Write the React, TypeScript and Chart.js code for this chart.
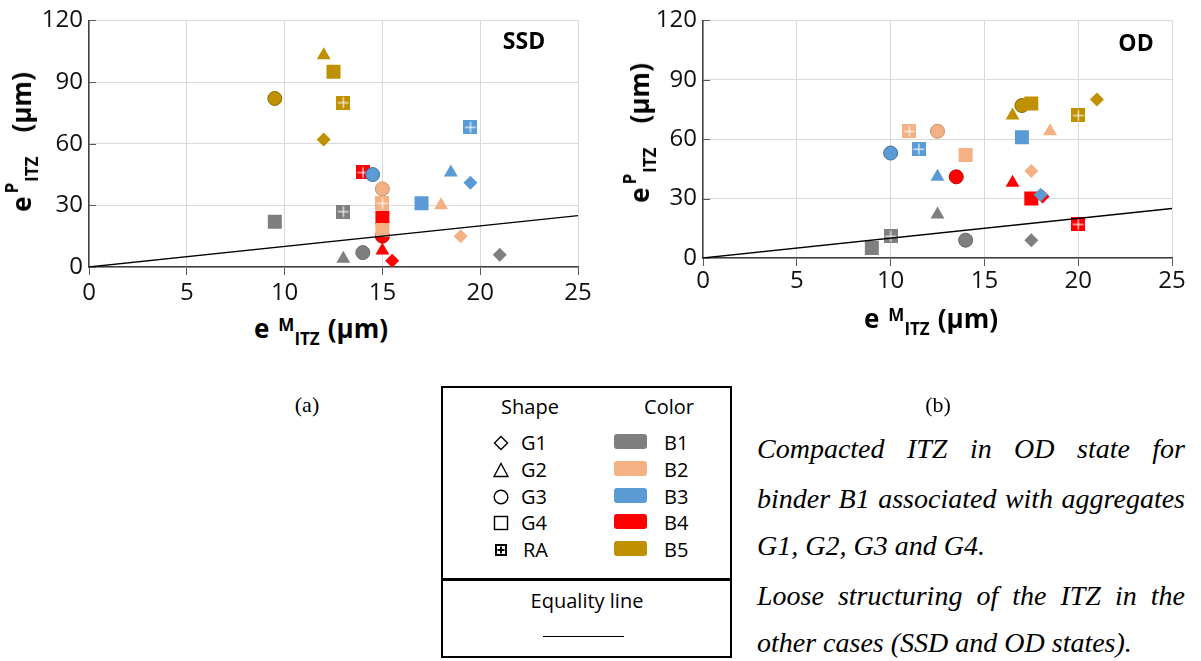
import React, { useEffect, useRef } from 'react';
import { Chart, registerables } from 'chart.js';

Chart.register(...registerables);

// ---------- data ----------
const SHAPES = ['G1', 'G2', 'G3', 'G4', 'RA'];
const BINDERS = ['B1', 'B2', 'B3', 'B4', 'B5'];
const X_TICKS = [0, 5, 10, 15, 20, 25];
const Y_TICKS = [0, 30, 60, 90, 120];
const EQUALITY_X = [0, 25];

// (a) SSD state — values in shape order G1, G2, G3, G4, RA
const SSD_B1_X = [21, 13, 14, 9.5, 13];
const SSD_B1_Y = [6, 4, 7, 22, 27];
const SSD_B2_X = [19, 18, 15, 15, 15];
const SSD_B2_Y = [15, 30, 38, 18, 31];
const SSD_B3_X = [19.5, 18.5, 14.5, 17, 19.5];
const SSD_B3_Y = [41, 46, 45, 31, 68];
const SSD_B4_X = [15.5, 15, 15, 15, 14];
const SSD_B4_Y = [3, 8, 15, 24, 46];
const SSD_B5_X = [12, 12, 9.5, 12.5, 13];
const SSD_B5_Y = [62, 103, 82, 95, 80];

// (b) OD state
const OD_B1_X = [17.5, 12.5, 14, 9, 10];
const OD_B1_Y = [9, 22, 9, 5, 11];
const OD_B2_X = [17.5, 18.5, 12.5, 14, 11];
const OD_B2_Y = [44, 64, 64, 52, 64];
const OD_B3_X = [18, 12.5, 10, 17, 11.5];
const OD_B3_Y = [32, 41, 53, 61, 55];
const OD_B4_X = [18.1, 16.5, 13.5, 17.5, 20];
const OD_B4_Y = [31, 38, 41, 30, 17];
const OD_B5_X = [21, 16.5, 17, 17.5, 20];
const OD_B5_Y = [80, 72, 77, 78, 72];

const TEXT_LINES = [
  'Compacted ITZ in OD state for',
  'binder B1 associated with aggregates',
  'G1, G2, G3 and G4.',
  'Loose structuring of the ITZ in the',
  'other cases (SSD and OD states).',
];

// ---------- styles ----------
const BINDER_COLORS = ['#7F7F7F', '#F4B183', '#5B9BD5', '#FF0000', '#BF9000'];
const BINDER_EDGE = ['#666666', '#C8906A', '#41719C', '#C00000', '#8C6A00'];
const BINDER_ORDER = [5, 4, 3, 6, 2];
const SHAPE_STYLE: Record<string, string> = { G1: 'rectRot', G2: 'triangle', G3: 'circle', G4: 'rect' };
const SHAPE_RADIUS: Record<string, number> = { G1: 7, G2: 8, G3: 7, G4: 9.9, RA: 7 };
const FONT = "'Open Sans', 'DejaVu Sans', sans-serif";

function makeRA(color: string) {
  const c = document.createElement('canvas');
  c.width = 14;
  c.height = 14;
  const g = c.getContext('2d')!;
  g.fillStyle = color;
  g.fillRect(0, 0, 14, 14);
  g.fillStyle = 'rgba(255,255,255,0.9)';
  g.fillRect(6.5, 1.5, 1.2, 11);
  g.fillRect(1.5, 6.5, 11, 1.2);
  return c;
}

const inwardTicks = {
  id: 'inwardTicks',
  afterDatasetsDraw(chart: any) {
    const y = chart.scales.y;
    const ctx = chart.ctx;
    ctx.save();
    ctx.strokeStyle = '#595959';
    ctx.lineWidth = 1;
    Y_TICKS.forEach((v) => {
      const py = Math.round(y.getPixelForValue(v)) + 0.5;
      ctx.beginPath();
      ctx.moveTo(y.right, py);
      ctx.lineTo(y.right + 7, py);
      ctx.stroke();
    });
    ctx.restore();
  },
};

type PanelProps = {
  xs: number[][];
  ys: number[][];
  left: number;
  width: number;
  height: number;
  yAxisWidth: number;
  xAxisHeight: number;
  padTop: number;
  padRight: number;
  xTickPad: number;
};

function ScatterPanel(p: PanelProps) {
  const ref = useRef<HTMLCanvasElement>(null);
  useEffect(() => {
    const raImgs = BINDER_COLORS.map(makeRA);
    const datasets: any[] = [
      {
        type: 'scatter',
        label: 'Equality line',
        data: EQUALITY_X.map((v) => ({ x: v, y: v })),
        showLine: true,
        borderColor: '#000000',
        borderWidth: 1.3,
        pointRadius: 0,
        order: 0,
      },
    ];
    BINDERS.forEach((b, bi) => {
      datasets.push({
        type: 'scatter',
        label: b,
        data: p.xs[bi].map((x, i) => ({ x, y: p.ys[bi][i] })),
        pointStyle: SHAPES.map((s) => (s === 'RA' ? raImgs[bi] : SHAPE_STYLE[s])),
        pointRadius: SHAPES.map((s) => SHAPE_RADIUS[s]),
        pointBackgroundColor: BINDER_COLORS[bi],
        pointBorderColor: BINDER_EDGE[bi],
        pointBorderWidth: SHAPES.map((s) => (s === 'G3' ? 1 : 0)),
        showLine: false,
        order: BINDER_ORDER[bi],
      });
    });
    const tickFont = { family: FONT, size: 24 };
    const chart = new Chart(ref.current!, {
      type: 'scatter',
      data: { datasets },
      options: {
        animation: false,
        responsive: false,
        maintainAspectRatio: false,
        devicePixelRatio: 1,
        layout: { padding: { left: 0, right: p.padRight, top: p.padTop, bottom: 0 } },
        plugins: { legend: { display: false }, tooltip: { enabled: false } },
        scales: {
          x: {
            type: 'linear',
            min: 0,
            max: 25,
            afterBuildTicks: (s: any) => {
              s.ticks = X_TICKS.map((v) => ({ value: v }));
            },
            afterFit: (s: any) => {
              s.height = p.xAxisHeight;
            },
            grid: { color: '#D9D9D9', lineWidth: 1, drawTicks: true, tickLength: 8, tickColor: '#595959' },
            border: { color: '#404040', width: 1.5 },
            ticks: { font: tickFont, color: '#111111', padding: p.xTickPad, maxRotation: 0 },
          },
          y: {
            type: 'linear',
            min: 0,
            max: 120,
            afterBuildTicks: (s: any) => {
              s.ticks = Y_TICKS.map((v) => ({ value: v }));
            },
            afterFit: (s: any) => {
              s.width = p.yAxisWidth;
            },
            grid: { color: '#D9D9D9', lineWidth: 1, drawTicks: false },
            border: { color: '#404040', width: 1.5 },
            ticks: { font: tickFont, color: '#111111', padding: 6 },
          },
        },
      } as any,
      plugins: [inwardTicks],
    });
    return () => chart.destroy();
  }, []);
  return (
    <canvas
      ref={ref}
      width={p.width}
      height={p.height}
      style={{ position: 'absolute', left: p.left, top: 0, width: p.width, height: p.height }}
    />
  );
}

// ---------- HTML text pieces ----------
function YTitle({ cx, cy }: { cx: number; cy: number }) {
  return (
    <div
      style={{
        position: 'absolute',
        left: cx,
        top: cy,
        transform: 'translate(-50%, -50%) rotate(-90deg)',
        whiteSpace: 'nowrap',
        fontFamily: FONT,
        fontWeight: 700,
        fontSize: 26,
        lineHeight: '30px',
        color: '#000',
      }}
    >
      <span>e</span>
      <span style={{ fontSize: 17, position: 'relative', top: -13, marginLeft: 3 }}>P</span>
      <span style={{ fontSize: 17, position: 'relative', top: 7, marginLeft: 1 }}>ITZ</span>
      <span style={{ marginLeft: 24 }}>(µm)</span>
    </div>
  );
}

function XTitle({ cx, baseline }: { cx: number; baseline: number }) {
  return (
    <div
      style={{
        position: 'absolute',
        left: cx,
        top: baseline - 25,
        transform: 'translateX(-50%)',
        whiteSpace: 'nowrap',
        fontFamily: FONT,
        fontWeight: 700,
        fontSize: 26,
        lineHeight: '30px',
        color: '#000',
      }}
    >
      <span>e</span>
      <span style={{ fontSize: 17, position: 'relative', top: -7, marginLeft: 9 }}>M</span>
      <span style={{ fontSize: 17, position: 'relative', top: 7 }}>ITZ</span>
      <span style={{ marginLeft: 8 }}>(µm)</span>
    </div>
  );
}

function Label({ text, cx, baseline, size, weight, family, italic }: any) {
  return (
    <div
      style={{
        position: 'absolute',
        left: cx,
        top: baseline - size * 0.95,
        transform: 'translateX(-50%)',
        whiteSpace: 'nowrap',
        fontFamily: family || FONT,
        fontWeight: weight || 400,
        fontStyle: italic ? 'italic' : 'normal',
        fontSize: size,
        lineHeight: `${size * 1.2}px`,
        color: '#000',
      }}
    >
      {text}
    </div>
  );
}

function ShapeIcon({ shape }: { shape: string }) {
  const st = { fill: 'none', stroke: '#000', strokeWidth: 1.4 };
  let el: any = null;
  if (shape === 'G1') el = <polygon points="8,1.5 14.5,8 8,14.5 1.5,8" {...st} />;
  else if (shape === 'G2') el = <polygon points="8,1.5 15,14.5 1,14.5" {...st} />;
  else if (shape === 'G3') el = <circle cx="8" cy="8" r="6.8" {...st} />;
  else if (shape === 'G4') el = <rect x="1.5" y="1.5" width="13" height="13" {...st} />;
  else
    el = (
      <g>
        <rect x="2" y="2" width="12" height="12" fill="#000" />
        <rect x="4" y="4" width="8" height="8" fill="#fff" />
        <path d="M8 4.5 V11.5 M4.5 8 H11.5" stroke="#000" strokeWidth="2" />
      </g>
    );
  return (
    <svg width="16" height="16" viewBox="0 0 16 16" style={{ display: 'block' }}>
      {el}
    </svg>
  );
}

const ROW_Y = [443, 470, 497, 523, 550];

function LegendBox() {
  return (
    <>
      <div
        style={{
          position: 'absolute',
          left: 441,
          top: 386,
          width: 291,
          height: 272,
          border: '2px solid #000',
          boxSizing: 'border-box',
        }}
      />
      <div style={{ position: 'absolute', left: 441, top: 578, width: 291, height: 3, background: '#000' }} />
      <Label text="Shape" cx={530} baseline={414} size={20} />
      <Label text="Color" cx={669} baseline={414} size={20} />
      {SHAPES.map((s, i) => (
        <React.Fragment key={s}>
          <div style={{ position: 'absolute', left: 493, top: ROW_Y[i] - 8 }}>
            <ShapeIcon shape={s} />
          </div>
          <div
            style={{
              position: 'absolute',
              left: s === 'RA' ? 523 : 521,
              top: ROW_Y[i] + 7 - 19,
              fontFamily: FONT,
              fontSize: 20,
              lineHeight: '24px',
              whiteSpace: 'nowrap',
            }}
          >
            {s}
          </div>
        </React.Fragment>
      ))}
      {BINDERS.map((b, i) => (
        <React.Fragment key={b}>
          <div
            style={{
              position: 'absolute',
              left: 614,
              top: ROW_Y[i] - 2 - 7,
              width: 33,
              height: 15,
              borderRadius: 3,
              background: BINDER_COLORS[i],
            }}
          />
          <div
            style={{
              position: 'absolute',
              left: 664,
              top: ROW_Y[i] + 7 - 19,
              fontFamily: FONT,
              fontSize: 20,
              lineHeight: '24px',
              whiteSpace: 'nowrap',
            }}
          >
            {b}
          </div>
        </React.Fragment>
      ))}
      <Label text="Equality line" cx={587} baseline={608} size={20} />
      <div style={{ position: 'absolute', left: 543, top: 636, width: 81, height: 1, background: '#000' }} />
    </>
  );
}

const TEXT_TOPS = [433, 483, 530, 580, 627];
const TEXT_JUSTIFY = [true, true, false, true, false];

export default function App() {
  return (
    <div
      style={{
        position: 'fixed',
        left: 0,
        top: 0,
        width: 1201,
        height: 661,
        background: '#fff',
        overflow: 'hidden',
      }}
    >
      <ScatterPanel
        xs={[SSD_B1_X, SSD_B2_X, SSD_B3_X, SSD_B4_X, SSD_B5_X]}
        ys={[SSD_B1_Y, SSD_B2_Y, SSD_B3_Y, SSD_B4_Y, SSD_B5_Y]}
        left={0}
        width={600}
        height={310}
        yAxisWidth={89}
        xAxisHeight={43}
        padTop={20}
        padRight={22}
        xTickPad={4}
      />
      <ScatterPanel
        xs={[OD_B1_X, OD_B2_X, OD_B3_X, OD_B4_X, OD_B5_X]}
        ys={[OD_B1_Y, OD_B2_Y, OD_B3_Y, OD_B4_Y, OD_B5_Y]}
        left={615}
        width={586}
        height={310}
        yAxisWidth={88}
        xAxisHeight={52}
        padTop={20}
        padRight={29}
        xTickPad={1}
      />
      <YTitle cx={23} cy={142} />
      <YTitle cx={641} cy={133} />
      <XTitle cx={321} baseline={338} />
      <XTitle cx={931} baseline={328} />
      <Label text="SSD" cx={524} baseline={49} size={23} weight={700} />
      <Label text="OD" cx={1136} baseline={51} size={23} weight={700} />
      <Label text="(a)" cx={307} baseline={413} size={22} family="'Liberation Serif', 'Times New Roman', serif" />
      <Label text="(b)" cx={938} baseline={413} size={22} family="'Liberation Serif', 'Times New Roman', serif" />
      <LegendBox />
      {TEXT_LINES.map((t, i) => (
        <div
          key={i}
          style={{
            position: 'absolute',
            left: 757,
            top: TEXT_TOPS[i],
            width: 428,
            fontFamily: "'Liberation Serif', 'Times New Roman', serif",
            fontStyle: 'italic',
            fontSize: 28,
            lineHeight: '32px',
            whiteSpace: 'nowrap',
            textAlign: TEXT_JUSTIFY[i] ? 'justify' : 'left',
            textAlignLast: TEXT_JUSTIFY[i] ? 'justify' : 'left',
            color: '#000',
          } as any}
        >
          {t}
        </div>
      ))}
    </div>
  );
}
